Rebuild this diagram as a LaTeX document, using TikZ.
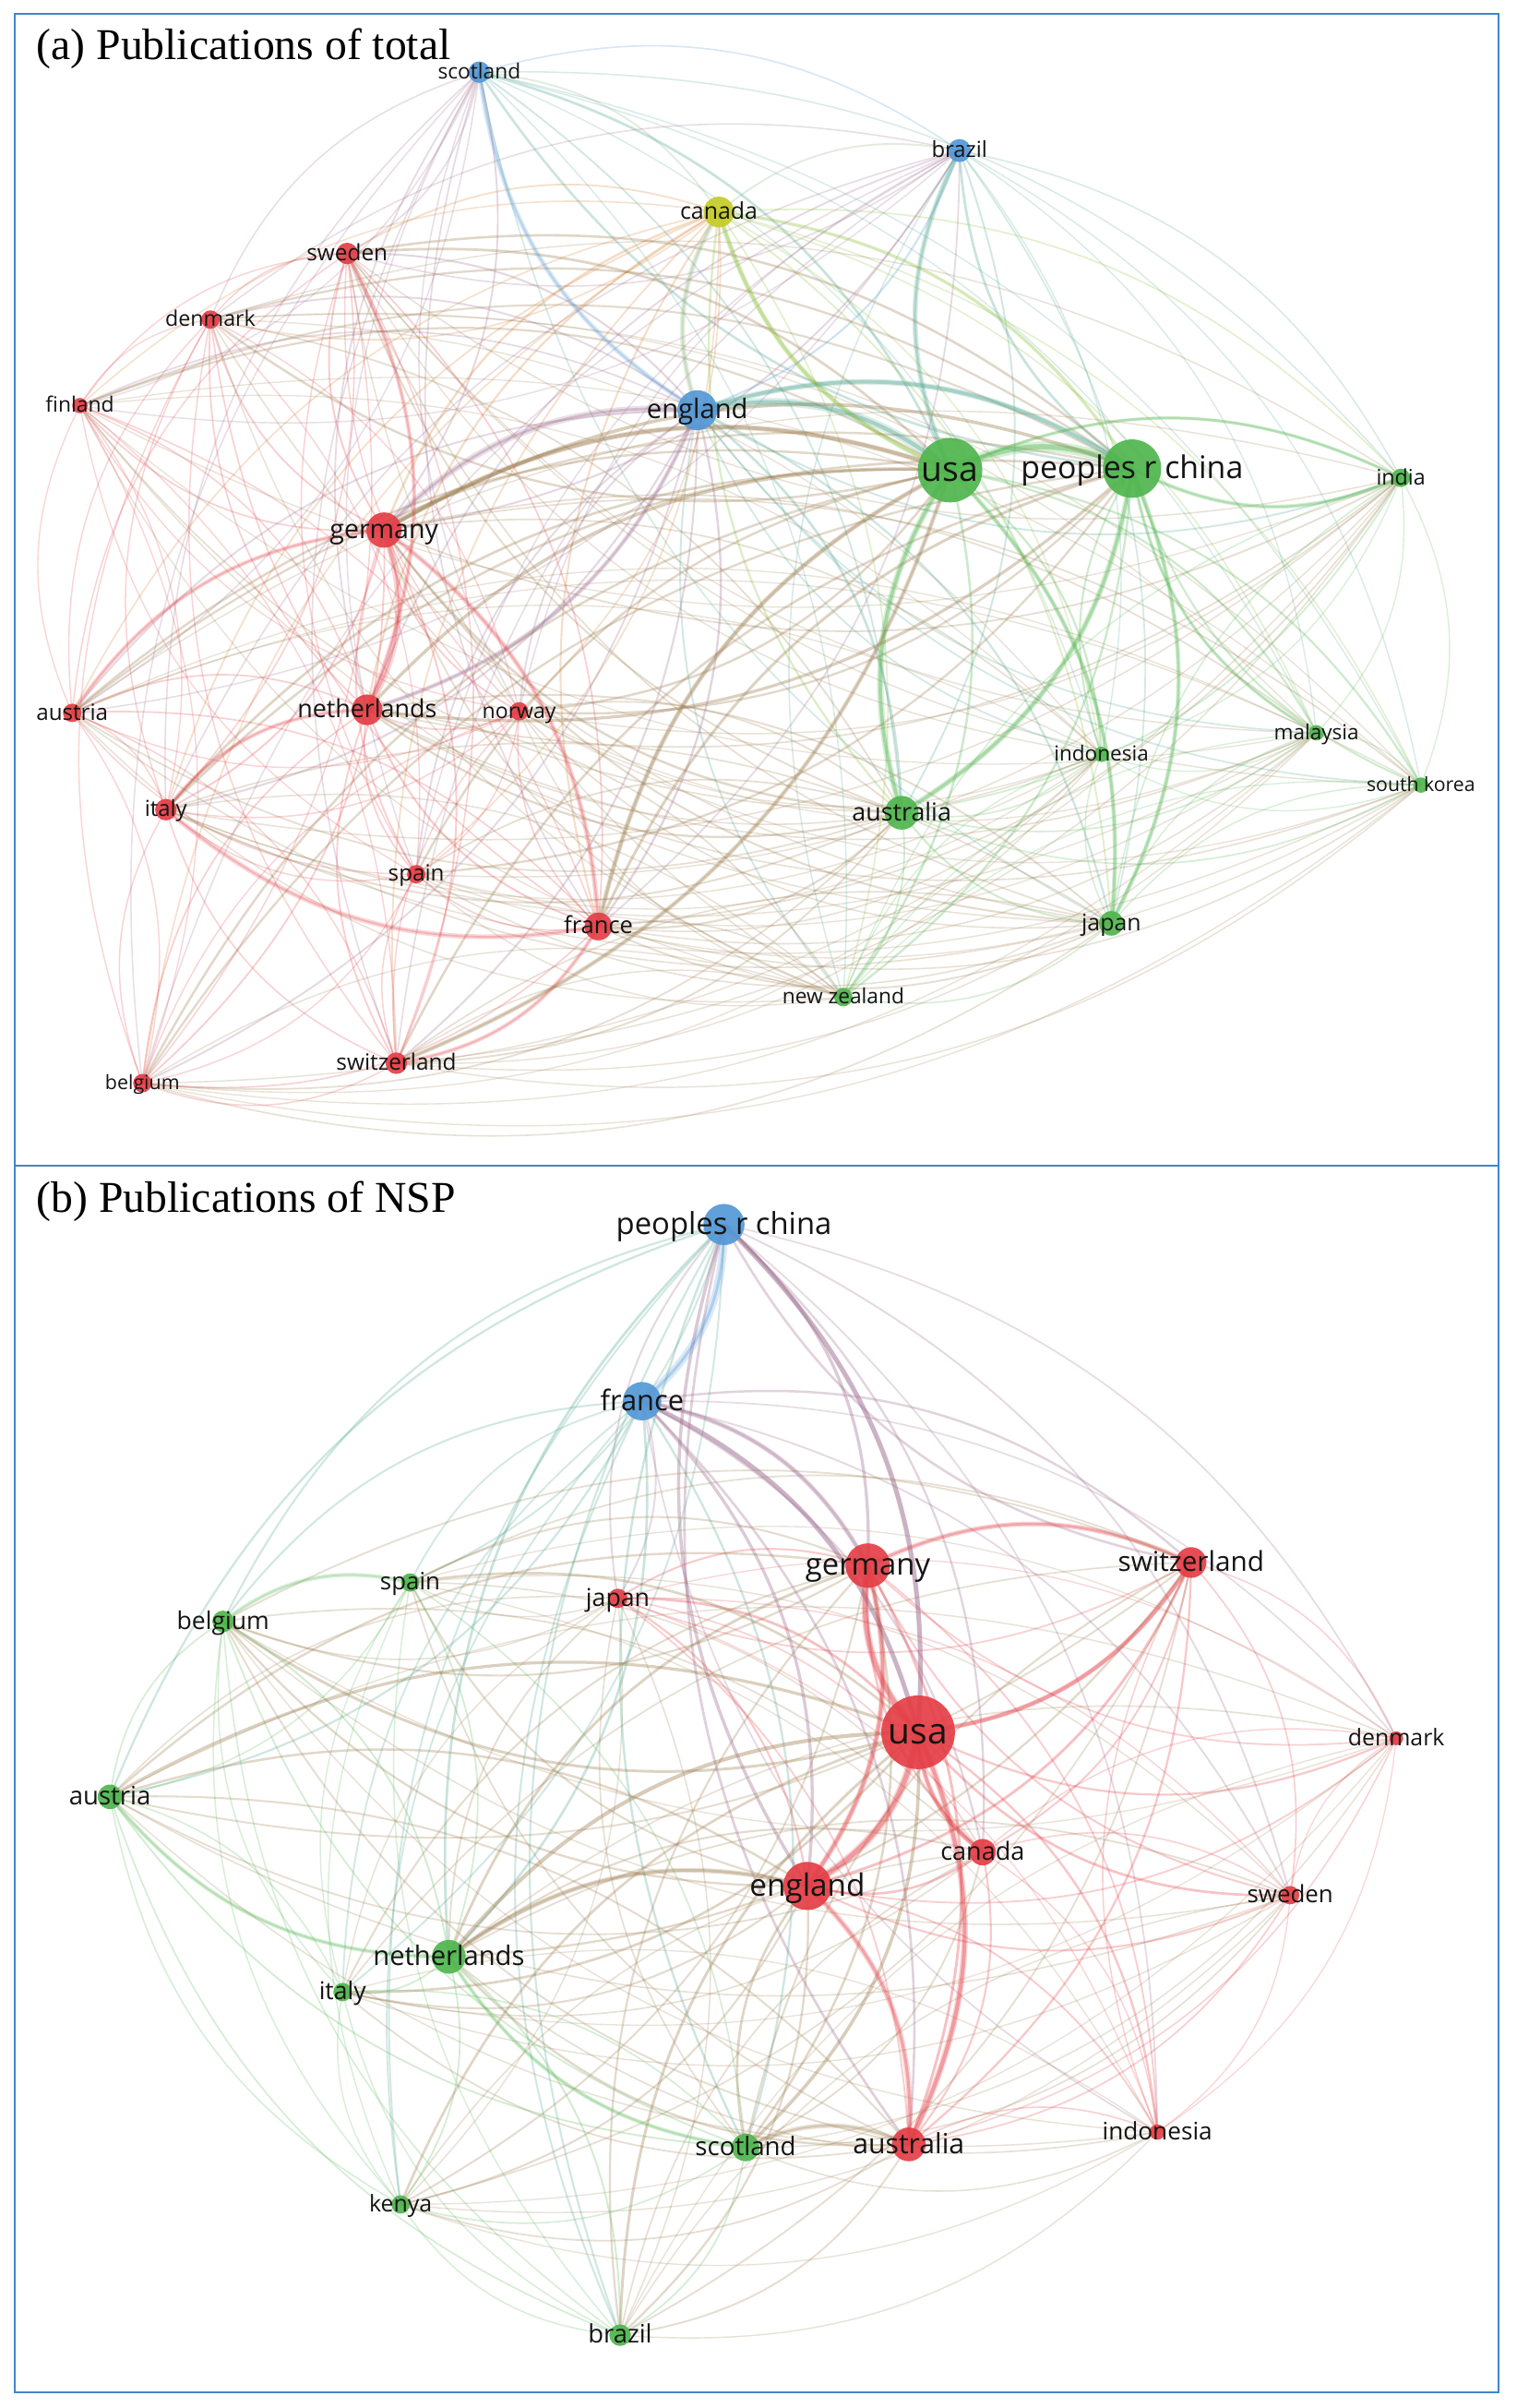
\documentclass[tikz,border=0pt]{standalone}
\usepackage{fontspec}
\setmainfont{Liberation Serif}
\newfontfamily\labfont{Open Sans}
\definecolor{cR}{RGB}{228,62,70}
\definecolor{cG}{RGB}{80,182,78}
\definecolor{cB}{RGB}{84,152,214}
\definecolor{cY}{RGB}{198,204,40}
\definecolor{cFrame}{RGB}{64,134,204}
\definecolor{cText}{RGB}{20,20,20}
\pgfdeclarelayer{paper}
\pgfdeclarelayer{edges}
\pgfdeclarelayer{front}
\pgfsetlayers{paper,edges,main,front}
\tikzset{
  dot/.style={circle, inner sep=0pt, outer sep=0pt, draw=none, fill opacity=0.92},
  lbl/.style={inner sep=0pt, outer sep=0pt, text=cText},
  ttl/.style={anchor=base west, inner sep=0pt, font=\fontsize{16.3pt}{16.3pt}\selectfont},
  frame/.style={draw=cFrame, line width=0.8pt}
}
% node: name, x, y, radius, colour, label, font size (px)
\newcommand\cnode[7]{%
  \expandafter\def\csname X@#1\endcsname{#2}%
  \expandafter\def\csname Y@#1\endcsname{#3}%
  \expandafter\def\csname R@#1\endcsname{#4}%
  \expandafter\def\csname C@#1\endcsname{#5}%
  \node[dot, fill=#5, minimum size=#4*0.04cm] (#1) at (#2,-#3) {};
  \pgfmathsetmacro\fsz{#7*0.5669}%
  \pgfmathsetmacro\bsh{#7*0.5669*0.32}%
  \begin{pgfonlayer}{front}
    \node[lbl, anchor=base, font=\labfont\fontsize{\fsz pt}{\fsz pt}\selectfont] (#1-t) at ([yshift=-\bsh pt]#1.center) {#6};
  \end{pgfonlayer}%
}
\newcommand\lkgeom[2]{%
  \pgfmathsetmacro\sdx{(\csname X@#2\endcsname-\csname X@#1\endcsname)/100}%
  \pgfmathsetmacro\sdy{(\csname Y@#2\endcsname-\csname Y@#1\endcsname)/100}%
  \pgfmathsetmacro\sox{((\csname X@#1\endcsname+\csname X@#2\endcsname)/2-\CX)/100}%
  \pgfmathsetmacro\soy{((\csname Y@#1\endcsname+\csname Y@#2\endcsname)/2-\CY)/100}%
  \pgfmathtruncatemacro\hs{mod(int(\csname X@#1\endcsname+\csname X@#2\endcsname+\csname Y@#1\endcsname+\csname Y@#2\endcsname),3)}%
  \pgfmathsetmacro\bang{(((\sdy)*(\sox)-(\sdx)*(\soy))>0 ? \BA : -\BA)*(\hs==0 ? -1 : 1)}%
  \pgfmathsetmacro\rr{\csname R@#1\endcsname*\csname R@#2\endcsname}%
  \edef\lcol{\csname C@#1\endcsname!50!\csname C@#2\endcsname}%
  \expandafter\ifx\csname C@#1\endcsname\csname C@#2\endcsname
    \def\opf{1}\else\def\opf{0.7}\fi
}
\newcommand\lk[2]{%
  \lkgeom{#1}{#2}%
  \pgfmathsetmacro\lw{0.35+0.004*\rr}%
  \pgfmathsetmacro\op{\opf*min(0.55,0.27+0.0012*\rr)}%
  \draw[line width=\lw pt, draw opacity=\op, draw=\lcol] (#1.center) to[bend left=\bang] (#2.center);
}
\newcommand\lks[3]{%
  \lkgeom{#1}{#2}%
  \pgfmathsetmacro\op{\opf*0.3}%
  \draw[line width=1.5*#3 pt, draw opacity=\op, draw=\lcol] (#1.center) to[bend left=\bang] (#2.center);
}
\def\BA{25}
\begin{document}
\begin{tikzpicture}[x=0.02cm,y=0.02cm]
\useasboundingbox (0,0) rectangle (987,-1567.3);
\begin{pgfonlayer}{paper}
\fill[white] (0,0) rectangle (987,-1567.3);
\end{pgfonlayer}
% ---------------- panel (a) ----------------
\cnode{a-scotland}{312}{47}{7}{cB}{scotland}{13.7}
\cnode{a-brazil}{624.6}{98}{7.5}{cB}{brazil}{14.4}
\cnode{a-canada}{468}{138}{10}{cY}{canada}{15}
\cnode{a-sweden}{226}{165}{7}{cR}{sweden}{14.7}
\cnode{a-denmark}{137}{208}{6}{cR}{denmark}{14}
\cnode{a-finland}{52}{264}{5}{cR}{finland}{13.8}
\cnode{a-england}{454}{267}{13}{cB}{england}{17.6}
\cnode{a-usa}{618.5}{306}{21}{cG}{usa}{22.5}
\cnode{a-china}{737}{305}{19}{cG}{peoples r china}{20.4}
\cnode{a-india}{912}{311}{6}{cG}{india}{14}
\cnode{a-germany}{250}{345}{11.5}{cR}{germany}{17.2}
\cnode{a-netherlands}{239}{462}{10}{cR}{netherlands}{16.2}
\cnode{a-norway}{338}{463}{6}{cR}{norway}{13.9}
\cnode{a-austria}{47}{464}{6}{cR}{austria}{14.6}
\cnode{a-italy}{108}{527}{7}{cR}{italy}{14.4}
\cnode{a-indonesia}{717}{491}{5}{cG}{indonesia}{13.6}
\cnode{a-malaysia}{857}{477}{5}{cG}{malaysia}{13.6}
\cnode{a-skorea}{925}{511}{5}{cG}{south korea}{12.8}
\cnode{a-australia}{587}{529}{11}{cG}{australia}{16.2}
\cnode{a-spain}{271}{569}{6}{cR}{spain}{14.6}
\cnode{a-france}{389.6}{603}{9}{cR}{france}{15.4}
\cnode{a-japan}{723.5}{601}{8}{cG}{japan}{15}
\cnode{a-nz}{549}{649}{6}{cG}{new zealand}{13.7}
\cnode{a-belgium}{92.7}{705}{6}{cR}{belgium}{12.9}
\cnode{a-switzerland}{258}{692}{7}{cR}{switzerland}{14.7}
% ---------------- panel (b) ----------------
\cnode{b-china}{471.3}{797}{13.4}{cB}{peoples r china}{19.8}
\cnode{b-france}{418}{912}{12.5}{cB}{france}{18.6}
\cnode{b-germany}{565}{1019}{14.5}{cR}{germany}{19.8}
\cnode{b-switzerland}{775.4}{1017}{10}{cR}{switzerland}{17.9}
\cnode{b-japan}{402.2}{1040.3}{6.3}{cR}{japan}{16.1}
\cnode{b-spain}{267}{1030}{6}{cG}{spain}{15.6}
\cnode{b-belgium}{145.2}{1055.3}{7}{cG}{belgium}{16}
\cnode{b-austria}{71.6}{1169.5}{8}{cG}{austria}{16.6}
\cnode{b-usa}{597.7}{1127.5}{24}{cR}{usa}{23.5}
\cnode{b-denmark}{909}{1131.4}{4.5}{cR}{denmark}{15}
\cnode{b-canada}{639.7}{1205.5}{8.6}{cR}{canada}{16.3}
\cnode{b-england}{525.6}{1227.5}{15.7}{cR}{england}{20.1}
\cnode{b-sweden}{839.9}{1233.5}{6}{cR}{sweden}{15.6}
\cnode{b-netherlands}{292.2}{1273.6}{11}{cG}{netherlands}{17.6}
\cnode{b-italy}{223}{1296.6}{6}{cG}{italy}{16}
\cnode{b-indonesia}{753.4}{1387.7}{5}{cR}{indonesia}{15.8}
\cnode{b-australia}{591.6}{1395.7}{11}{cR}{australia}{18.2}
\cnode{b-scotland}{485.4}{1397.7}{9}{cG}{scotland}{16.7}
\cnode{b-kenya}{260.8}{1434.8}{6}{cG}{kenya}{15}
\cnode{b-brazil}{403.7}{1519.9}{7}{cG}{brazil}{16.5}
% ---------------- edges ----------------
\begin{pgfonlayer}{edges}
\begin{scope}
\clip (10,-9.5) rectangle (975,-758.5);
\def\CX{490}\def\CY{385}
\def\alist{a-scotland,a-brazil,a-canada,a-sweden,a-denmark,a-finland,a-england,a-usa,a-china,a-india,a-germany,a-netherlands,a-norway,a-austria,a-italy,a-indonesia,a-malaysia,a-skorea,a-australia,a-spain,a-france,a-japan,a-nz,a-belgium,a-switzerland}
\foreach \u [count=\i] in \alist {%
  \foreach \v [count=\j] in \alist {%
    \ifnum\j>\i\relax \lk{\u}{\v}\fi
  }%
}
\foreach \u/\v/\w in {a-usa/a-china/2.6, a-usa/a-england/2.0, a-china/a-england/1.4,
  a-usa/a-australia/1.6, a-china/a-australia/1.4, a-germany/a-netherlands/1.6,
  a-germany/a-england/1.6, a-netherlands/a-england/1.1, a-germany/a-france/1.2,
  a-usa/a-canada/1.3, a-canada/a-england/1.3, a-usa/a-brazil/1.3, a-scotland/a-england/1.2,
  a-italy/a-france/1.2, a-austria/a-germany/1.0, a-switzerland/a-france/1.0,
  a-usa/a-japan/1.1, a-china/a-japan/1.1, a-usa/a-germany/1.3, a-usa/a-france/1.2,
  a-switzerland/a-usa/1.1, a-sweden/a-netherlands/1.0, a-italy/a-netherlands/1.0,
  a-china/a-india/1.0, a-usa/a-india/0.8, a-china/a-malaysia/0.8}{%
  \lks{\u}{\v}{\w}%
}
\end{scope}
\begin{scope}
\clip (10,-758.5) rectangle (975,-1557);
\def\CX{490}\def\CY{1160}
\def\blist{b-china,b-france,b-germany,b-switzerland,b-japan,b-spain,b-belgium,b-austria,b-usa,b-denmark,b-canada,b-england,b-sweden,b-netherlands,b-italy,b-indonesia,b-australia,b-scotland,b-kenya,b-brazil}
\foreach \u [count=\i] in \blist {%
  \foreach \v [count=\j] in \blist {%
    \ifnum\j>\i\relax \lk{\u}{\v}\fi
  }%
}
\foreach \u/\v/\w in {b-china/b-france/2.0, b-usa/b-england/2.0, b-usa/b-germany/1.8,
  b-usa/b-canada/1.2, b-usa/b-australia/1.6, b-england/b-australia/1.4,
  b-germany/b-england/1.4, b-germany/b-switzerland/1.2, b-usa/b-switzerland/1.2,
  b-england/b-netherlands/1.2, b-china/b-usa/1.2, b-france/b-usa/1.2,
  b-austria/b-netherlands/1.0, b-netherlands/b-scotland/1.0, b-scotland/b-australia/1.2,
  b-france/b-germany/1.2, b-belgium/b-spain/1.0}{%
  \lks{\u}{\v}{\w}%
}
\end{scope}
\end{pgfonlayer}
% ---------------- frames and titles ----------------
\draw[frame] (9.6,-9.2) rectangle (975.5,-758.7);
\draw[frame] (9.6,-758.7) rectangle (975.5,-1557.2);
\node[ttl] (ta) at (23.5,-39) {(a) Publications of total};
\node[ttl] (tb) at (23.5,-789) {(b) Publications of NSP};
\end{tikzpicture}
\end{document}
